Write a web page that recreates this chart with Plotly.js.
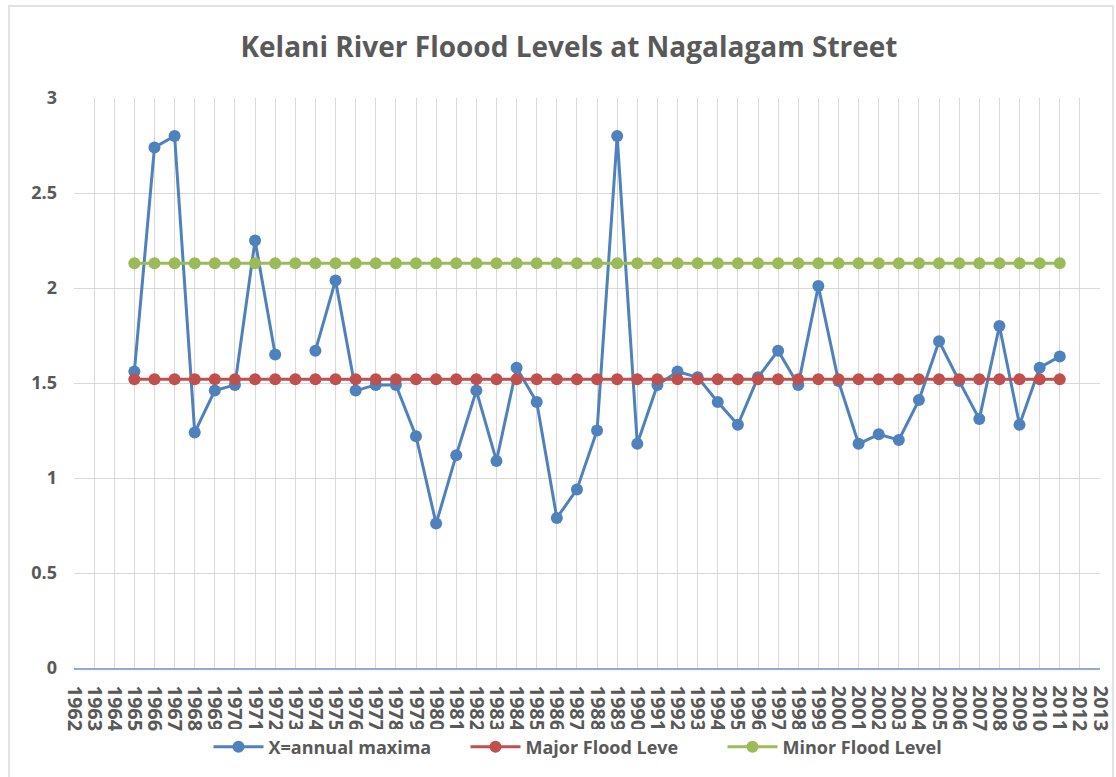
<!DOCTYPE html>
<html>
<head>
<meta charset="utf-8">
<script src="https://cdn.plot.ly/plotly-3.0.1.min.js"></script>
<style>
html,body{margin:0;padding:0;background:#fff;}
#chart{width:1116px;height:777px;}
</style>
</head>
<body>
<div id="chart"></div>
<script>
const years = [];
for (let y = 1962; y <= 2013; y++) years.push(String(y));

const dataYears = ["1965","1966","1967","1968","1969","1970","1971","1972","1973","1974",
  "1975","1976","1977","1978","1979","1980","1981","1982","1983","1984",
  "1985","1986","1987","1988","1989","1990","1991","1992","1993","1994",
  "1995","1996","1997","1998","1999","2000","2001","2002","2003","2004",
  "2005","2006","2007","2008","2009","2010","2011"];

const annualMaxima = [1.56, 2.74, 2.80, 1.24, 1.46, 1.49, 2.25, 1.65, null, 1.67,
  2.04, 1.46, 1.49, 1.49, 1.22, 0.76, 1.12, 1.46, 1.09, 1.58,
  1.40, 0.79, 0.94, 1.25, 2.80, 1.18, 1.49, 1.56, 1.53, 1.40,
  1.28, 1.53, 1.67, 1.49, 2.01, 1.51, 1.18, 1.23, 1.20, 1.41,
  1.72, 1.51, 1.31, 1.80, 1.28, 1.58, 1.64];

const majorFloodLevel = dataYears.map(() => 1.52);
const minorFloodLevel = dataYears.map(() => 2.13);

const seriesNames = ["X=annual maxima", "Major Flood Leve", "Minor Flood Level"];
const seriesColors = ["#4F81BD", "#C0504D", "#9BBB59"];
const yTicks = [0, 0.5, 1, 1.5, 2, 2.5, 3];
const yTickText = ["0", "0.5", "1", "1.5", "2", "2.5", "3"];

function mk(name, vals, color) {
  return {
    x: dataYears, y: vals, name: name, type: 'scatter', mode: 'lines+markers',
    connectgaps: false,
    line: {color: color, width: 3},
    marker: {color: color, size: 12}
  };
}

// Placeholder trace to register all category years in order
const base = {x: years, y: years.map(() => null), type: 'scatter', mode: 'lines',
  showlegend: false, hoverinfo: 'skip'};

const traces = [
  base,
  mk(seriesNames[0], annualMaxima, seriesColors[0]),
  mk(seriesNames[1], majorFloodLevel, seriesColors[1]),
  mk(seriesNames[2], minorFloodLevel, seriesColors[2])
];

const L = 74, R = 1100, T = 98, B = 668, W = 1116, H = 777;
const pw = R - L, ph = B - T;
const px = v => (v - L) / pw;
const py = v => (B - v) / ph;

const layout = {
  width: W, height: H,
  margin: {l: L, r: W - R, t: T, b: H - B, pad: 0},
  paper_bgcolor: '#fff', plot_bgcolor: '#fff',
  font: {family: 'Open Sans, sans-serif', color: '#595959'},
  title: {
    text: '<b>Kelani River Floood Levels at Nagalagam Street</b>',
    font: {family: 'Open Sans, sans-serif', size: 28, color: '#595959'},
    xref: 'container', yref: 'container', x: 569 / W, y: 1 - 47 / H,
    xanchor: 'center', yanchor: 'middle'
  },
  xaxis: {
    type: 'category', categoryorder: 'array', categoryarray: years,
    range: [0, years.length - 1],
    tickmode: 'array', tickvals: years, ticktext: years,
    showgrid: true, gridcolor: '#D9D9D9', gridwidth: 1,
    showline: true, linecolor: '#8EAADB', linewidth: 1.5,
    zeroline: false, ticks: '', tickangle: 90,
    tickfont: {size: 20, color: '#595959', family: 'Open Sans, sans-serif', weight: 'bold'},
    ticklabelstandoff: 12,
    fixedrange: true
  },
  yaxis: {
    range: [0, 3], tickvals: yTicks, ticktext: yTickText,
    showgrid: true, gridcolor: '#D9D9D9', gridwidth: 1,
    zeroline: false, showline: false, ticks: '',
    tickfont: {size: 18, color: '#595959', family: 'Open Sans, sans-serif', weight: 'bold'},
    ticklabelstandoff: 16,
    fixedrange: true
  },
  legend: {
    orientation: 'h', x: px(594), xanchor: 'center', y: py(747), yanchor: 'middle',
    font: {size: 18, color: '#595959', family: 'Open Sans, sans-serif', weight: 'bold'},
    itemwidth: 50, traceorder: 'normal',
    entrywidth: 192, entrywidthmode: 'pixels'
  },
  shapes: [{
    type: 'rect', xref: 'paper', yref: 'paper',
    x0: px(9), x1: px(1113), y0: py(800), y1: py(6),
    line: {color: '#D9D9D9', width: 1.5}, fillcolor: 'rgba(0,0,0,0)', layer: 'below'
  }],
  showlegend: true
};

Plotly.newPlot('chart', traces, layout, {displayModeBar: false, staticPlot: true});
</script>
</body>
</html>
